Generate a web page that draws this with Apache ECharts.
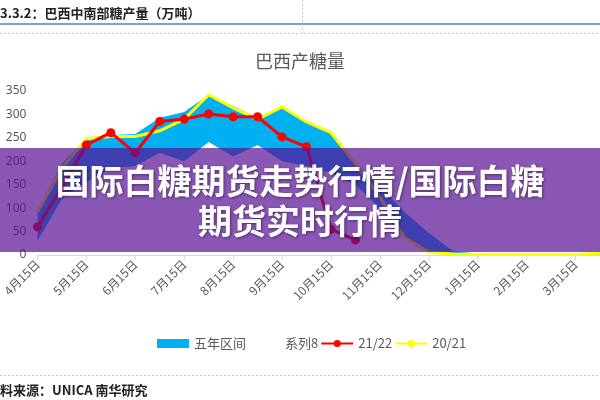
<!DOCTYPE html>
<html>
<head>
<meta charset="utf-8">
<script src="https://cdn.jsdelivr.net/npm/echarts@6/dist/echarts.min.js"></script>
<style>
html,body{margin:0;padding:0;background:#fff;}
#c{width:600px;height:400px;}
</style>
</head>
<body>
<div id="c"></div>
<script>
const categories = ['4月15日','4月30日','5月15日','5月31日','6月15日','6月30日','7月15日','7月31日','8月15日','8月31日','9月15日','9月30日','10月15日','10月31日','11月15日','11月30日','12月15日','12月31日','1月15日','1月31日','2月15日','2月28日','3月15日','3月31日'];
const rangeMin = [30,120,155,185,190,218,200,241,210,235,200,190,175,150,100,36,6,0,0,0,0,0,0,0];
const rangeMax = [95,195,250,256,258,293,305,342,318,293,318,284,261,195,148,92,47,8,3,2,2,2,3,5];
const s2122 = [60,145,235,261,218,285,290,301,295,295,252,231,55,32,null,null,null,null,null,null,null,null,null,null];
const s2021 = [92,185,248,253,253,265,290,342,314,290,316,284,261,195,124,38,6,2,1,1,1,1,1,4];
const yTicks = [0,50,100,150,200,250,300,350];

const rangeSpan = rangeMax.map((v, i) => v - rangeMin[i]);

const chart = echarts.init(document.getElementById('c'), null, {renderer: 'canvas'});
const grey = '#595959';
const option = {
  animation: false,
  backgroundColor: '#fff',
  title: {
    text: '巴西产糖量', left: 'center', top: 47,
    textStyle: {fontSize: 18, fontWeight: 'normal', color: grey, fontFamily: 'Noto Sans CJK SC'}
  },
  grid: {left: 34, width: 581.5, top: 91, height: 164, containLabel: false},
  legend: {
    left: 152, top: 332, itemWidth: 32, itemHeight: 9, itemGap: 2,
    textStyle: {fontSize: 13, color: grey, fontFamily: 'Noto Sans CJK SC'},
    data: [{name: '五年区间', icon: 'rect'}, '系列8', '21/22', '20/21']
  },
  xAxis: {
    type: 'category', data: categories, boundaryGap: false,
    axisLine: {lineStyle: {color: '#D9D9D9', width: 1}},
    axisTick: {show: true, interval: 1, length: 5, lineStyle: {color: '#D9D9D9'}},
    axisLabel: {interval: 1, rotate: 45, fontSize: 12, color: grey, margin: 7, fontFamily: 'Noto Sans CJK SC'}
  },
  yAxis: {
    type: 'value', min: yTicks[0], max: yTicks[yTicks.length - 1], interval: 50,
    axisLine: {show: false}, axisTick: {show: false}, splitLine: {show: false},
    axisLabel: {fontSize: 12, color: grey, margin: 11, fontFamily: 'Noto Sans'}
  },
  series: [
    {name: '系列8', type: 'line', stack: 'r', data: rangeMin, symbol: 'none',
     lineStyle: {opacity: 0, width: 0}, areaStyle: {opacity: 0}, itemStyle: {color: 'rgba(0,0,0,0)'}},
    {name: '五年区间', type: 'line', stack: 'r', data: rangeSpan, symbol: 'none',
     lineStyle: {width: 0, opacity: 0}, areaStyle: {color: '#00B0F0', opacity: 1}, itemStyle: {color: '#00B0F0'}},
    {name: '20/21', type: 'line', data: s2021, symbol: 'none', z: 3,
     lineStyle: {color: '#FFFF00', width: 3}, itemStyle: {color: '#FFFF00'}},
    {name: '21/22', type: 'line', data: s2122, symbol: 'circle', symbolSize: 9, z: 4,
     lineStyle: {color: '#FF0000', width: 3}, itemStyle: {color: '#FF0000'}}
  ],
  graphic: [
    {type: 'text', left: 0, top: 7, z: 50,
     style: {text: '3.3.2：巴西中南部糖产量（万吨）', fontSize: 13, fontWeight: 'bold', fill: '#222', fontFamily: 'Noto Sans CJK SC'}},
    {type: 'line', z: 50, shape: {x1: 0, y1: 24, x2: 600, y2: 24}, style: {stroke: '#7BA3CF', lineWidth: 2}},
    {type: 'line', z: 50, shape: {x1: 0, y1: 33.5, x2: 600, y2: 33.5}, style: {stroke: '#C8C8C8', lineWidth: 1, lineDash: [2, 2]}},
    {type: 'line', z: 50, shape: {x1: 302.5, y1: 0, x2: 302.5, y2: 33}, style: {stroke: '#C8C8C8', lineWidth: 1, lineDash: [2, 2]}},
    {type: 'line', z: 50, shape: {x1: 0, y1: 375.5, x2: 600, y2: 375.5}, style: {stroke: '#C8C8C8', lineWidth: 1, lineDash: [2, 2]}},
    {type: 'text', left: 0, top: 384, z: 50,
     style: {text: '料来源：UNICA 南华研究', fontSize: 13, fontWeight: 'bold', fill: '#222', fontFamily: 'Noto Sans CJK SC'}},
    {type: 'rect', z: 100, shape: {x: 0, y: 148, width: 600, height: 104},
     style: {fill: 'rgba(89,16,149,0.7)'}},
    {type: 'text', z: 101, x: 300, y: 181,
     style: {text: '国际白糖期货走势行情/国际白糖', fontSize: 34, fontWeight: 'bold', fill: '#fff',
       align: 'center', verticalAlign: 'middle', fontFamily: 'Noto Sans CJK SC',
       textShadowColor: 'rgba(0,0,0,0.45)', textShadowBlur: 3, textShadowOffsetX: 1, textShadowOffsetY: 1}},
    {type: 'text', z: 101, x: 300, y: 221,
     style: {text: '期货实时行情', fontSize: 34, fontWeight: 'bold', fill: '#fff',
       align: 'center', verticalAlign: 'middle', fontFamily: 'Noto Sans CJK SC',
       textShadowColor: 'rgba(0,0,0,0.45)', textShadowBlur: 3, textShadowOffsetX: 1, textShadowOffsetY: 1}}
  ]
};
chart.setOption(option);
</script>
</body>
</html>
